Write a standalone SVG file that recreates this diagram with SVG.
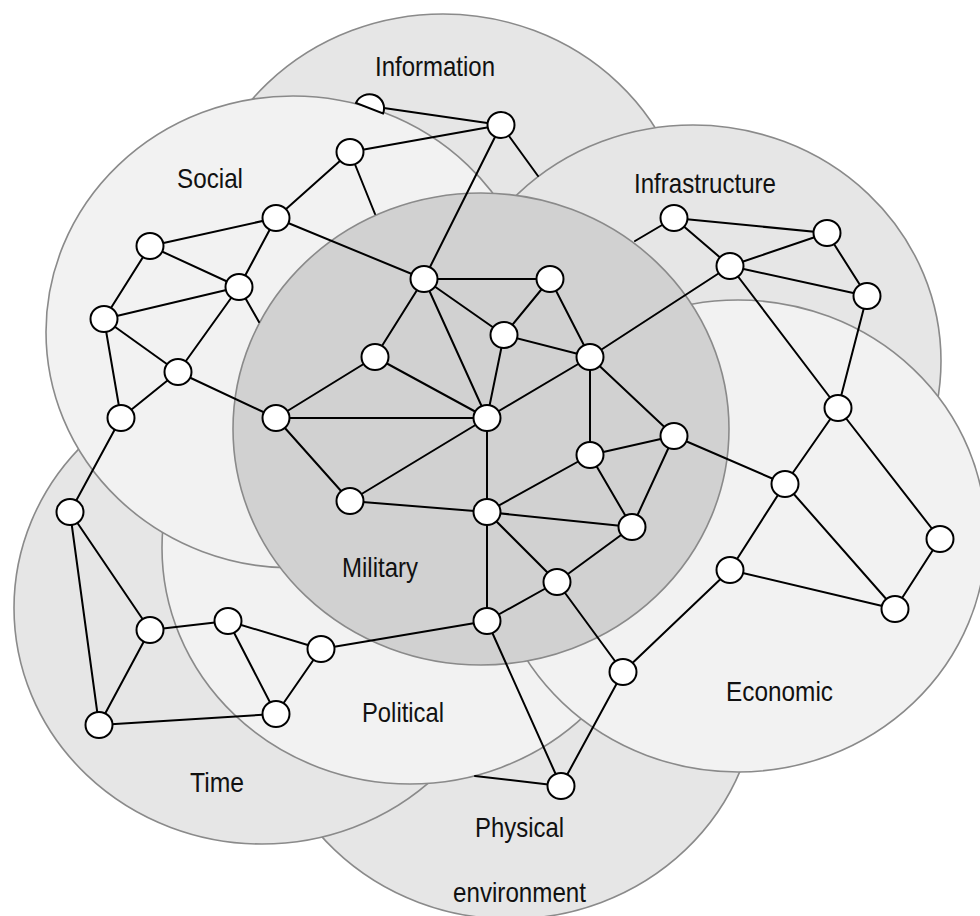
<svg xmlns="http://www.w3.org/2000/svg" width="980" height="916" viewBox="0 0 980 916">
<style>
.dom{stroke:#8a8a8a;stroke-width:1.6}
.d1{fill:#e6e6e6}
.d2{fill:#f2f2f2}
.d3{fill:#d1d1d1}
.lbl{font-family:"Liberation Sans",Arial,sans-serif;font-size:28px;fill:#111}
.edges line{stroke:#000;stroke-width:2;stroke-linecap:round}
.node ellipse,.node path{fill:#fff;stroke:#000;stroke-width:2}
</style>
<rect width="980" height="916" fill="#fff"/>
<g id="domains">
<g id="information"><ellipse class="dom d1" cx="443" cy="250" rx="248" ry="236"/></g>
<g id="physical"><ellipse class="dom d1" cx="510" cy="683" rx="248" ry="236"/></g>
<g id="time"><ellipse class="dom d1" cx="262" cy="608" rx="248" ry="236"/></g>
<g id="political"><ellipse class="dom d2" cx="410" cy="548" rx="248" ry="236"/></g>
<g id="social"><ellipse class="dom d2" cx="293" cy="332" rx="247" ry="236"/></g>
<g id="infrastructure"><ellipse class="dom d1" cx="693" cy="361" rx="248" ry="236"/></g>
<g id="economic"><ellipse class="dom d2" cx="738" cy="536" rx="248" ry="236"/></g>
<g id="military"><ellipse class="dom d3" cx="481" cy="429" rx="248" ry="236"/></g>
</g>
<g id="labels">
<text class="lbl" x="375" y="76" textLength="120" lengthAdjust="spacingAndGlyphs">Information</text>
<text class="lbl" x="177" y="188" textLength="66" lengthAdjust="spacingAndGlyphs">Social</text>
<text class="lbl" x="634" y="193" textLength="142" lengthAdjust="spacingAndGlyphs">Infrastructure</text>
<text class="lbl" x="342" y="577" textLength="76" lengthAdjust="spacingAndGlyphs">Military</text>
<text class="lbl" x="362" y="722" textLength="82" lengthAdjust="spacingAndGlyphs">Political</text>
<text class="lbl" x="190" y="792" textLength="54" lengthAdjust="spacingAndGlyphs">Time</text>
<text class="lbl" x="726" y="701" textLength="107" lengthAdjust="spacingAndGlyphs">Economic</text>
<text class="lbl" x="475" y="837" textLength="89" lengthAdjust="spacingAndGlyphs">Physical</text>
<text class="lbl" x="453" y="902" textLength="133" lengthAdjust="spacingAndGlyphs">environment</text>
</g>
<g id="connectors" class="edges">
<line x1="370" y1="106" x2="501" y2="125"/>
<line x1="501" y1="125" x2="350" y2="152"/>
<line x1="501" y1="125" x2="424" y2="279"/>
<line x1="501" y1="125" x2="538" y2="176"/>
<line x1="350" y1="152" x2="276" y2="218"/>
<line x1="350" y1="152" x2="375" y2="214"/>
<line x1="276" y1="218" x2="150" y2="246"/>
<line x1="276" y1="218" x2="239" y2="287"/>
<line x1="276" y1="218" x2="424" y2="279"/>
<line x1="150" y1="246" x2="239" y2="287"/>
<line x1="150" y1="246" x2="104" y2="319"/>
<line x1="239" y1="287" x2="104" y2="319"/>
<line x1="239" y1="287" x2="178" y2="372"/>
<line x1="239" y1="287" x2="259" y2="322"/>
<line x1="104" y1="319" x2="178" y2="372"/>
<line x1="104" y1="319" x2="121" y2="418"/>
<line x1="178" y1="372" x2="121" y2="418"/>
<line x1="178" y1="372" x2="276" y2="418"/>
<line x1="121" y1="418" x2="70" y2="512"/>
<line x1="424" y1="279" x2="550" y2="279"/>
<line x1="424" y1="279" x2="375" y2="357"/>
<line x1="424" y1="279" x2="504" y2="335"/>
<line x1="424" y1="279" x2="487" y2="418"/>
<line x1="550" y1="279" x2="504" y2="335"/>
<line x1="550" y1="279" x2="590" y2="357"/>
<line x1="504" y1="335" x2="590" y2="357"/>
<line x1="504" y1="335" x2="487" y2="418"/>
<line x1="375" y1="357" x2="276" y2="418"/>
<line x1="375" y1="357" x2="487" y2="418"/>
<line x1="276" y1="418" x2="487" y2="418"/>
<line x1="276" y1="418" x2="350" y2="501"/>
<line x1="350" y1="501" x2="487" y2="418"/>
<line x1="350" y1="501" x2="487" y2="512"/>
<line x1="590" y1="357" x2="730" y2="266"/>
<line x1="590" y1="357" x2="487" y2="418"/>
<line x1="590" y1="357" x2="590" y2="455"/>
<line x1="590" y1="357" x2="674" y2="436"/>
<line x1="487" y1="418" x2="487" y2="512"/>
<line x1="590" y1="455" x2="674" y2="436"/>
<line x1="590" y1="455" x2="487" y2="512"/>
<line x1="590" y1="455" x2="632" y2="527"/>
<line x1="674" y1="436" x2="632" y2="527"/>
<line x1="674" y1="436" x2="785" y2="484"/>
<line x1="487" y1="512" x2="632" y2="527"/>
<line x1="487" y1="512" x2="557" y2="582"/>
<line x1="487" y1="512" x2="487" y2="621"/>
<line x1="632" y1="527" x2="557" y2="582"/>
<line x1="557" y1="582" x2="487" y2="621"/>
<line x1="557" y1="582" x2="623" y2="672"/>
<line x1="487" y1="621" x2="321" y2="649"/>
<line x1="487" y1="621" x2="561" y2="786"/>
<line x1="561" y1="786" x2="475" y2="776"/>
<line x1="623" y1="672" x2="561" y2="786"/>
<line x1="623" y1="672" x2="730" y2="570"/>
<line x1="730" y1="570" x2="785" y2="484"/>
<line x1="730" y1="570" x2="895" y2="609"/>
<line x1="785" y1="484" x2="895" y2="609"/>
<line x1="785" y1="484" x2="838" y2="408"/>
<line x1="895" y1="609" x2="940" y2="539"/>
<line x1="940" y1="539" x2="838" y2="408"/>
<line x1="838" y1="408" x2="867" y2="296"/>
<line x1="838" y1="408" x2="730" y2="266"/>
<line x1="730" y1="266" x2="674" y2="218"/>
<line x1="730" y1="266" x2="827" y2="233"/>
<line x1="730" y1="266" x2="867" y2="296"/>
<line x1="674" y1="218" x2="827" y2="233"/>
<line x1="827" y1="233" x2="867" y2="296"/>
<line x1="674" y1="218" x2="635" y2="241"/>
<line x1="70" y1="512" x2="150" y2="630"/>
<line x1="70" y1="512" x2="99" y2="725"/>
<line x1="150" y1="630" x2="99" y2="725"/>
<line x1="150" y1="630" x2="228" y2="621"/>
<line x1="99" y1="725" x2="276" y2="714"/>
<line x1="228" y1="621" x2="321" y2="649"/>
<line x1="228" y1="621" x2="276" y2="714"/>
<line x1="321" y1="649" x2="276" y2="714"/>
</g>
<g id="nodes" class="node">
<g id="n-info-1"><path d="M356,103 A14,13.5 0 0 1 383,113.5 Z"/></g>
<g id="n-info-2"><ellipse cx="501" cy="125" rx="13.5" ry="13"/></g>
<g id="n-soc-1"><ellipse cx="350" cy="152" rx="13.5" ry="13"/></g>
<g id="n-soc-2"><ellipse cx="276" cy="218" rx="13.5" ry="13"/></g>
<g id="n-soc-3"><ellipse cx="150" cy="246" rx="13.5" ry="13"/></g>
<g id="n-soc-4"><ellipse cx="239" cy="287" rx="13.5" ry="13"/></g>
<g id="n-soc-5"><ellipse cx="104" cy="319" rx="13.5" ry="13"/></g>
<g id="n-soc-6"><ellipse cx="178" cy="372" rx="13.5" ry="13"/></g>
<g id="n-soc-7"><ellipse cx="121" cy="418" rx="13.5" ry="13"/></g>
<g id="n-mil-1"><ellipse cx="424" cy="279" rx="13.5" ry="13"/></g>
<g id="n-mil-2"><ellipse cx="550" cy="279" rx="13.5" ry="13"/></g>
<g id="n-mil-3"><ellipse cx="504" cy="335" rx="13.5" ry="13"/></g>
<g id="n-mil-4"><ellipse cx="375" cy="357" rx="13.5" ry="13"/></g>
<g id="n-mil-5"><ellipse cx="590" cy="357" rx="13.5" ry="13"/></g>
<g id="n-mil-6"><ellipse cx="276" cy="418" rx="13.5" ry="13"/></g>
<g id="n-mil-7"><ellipse cx="487" cy="418" rx="13.5" ry="13"/></g>
<g id="n-mil-8"><ellipse cx="674" cy="436" rx="13.5" ry="13"/></g>
<g id="n-mil-9"><ellipse cx="590" cy="455" rx="13.5" ry="13"/></g>
<g id="n-mil-10"><ellipse cx="350" cy="501" rx="13.5" ry="13"/></g>
<g id="n-mil-11"><ellipse cx="487" cy="512" rx="13.5" ry="13"/></g>
<g id="n-mil-12"><ellipse cx="632" cy="527" rx="13.5" ry="13"/></g>
<g id="n-mil-13"><ellipse cx="557" cy="582" rx="13.5" ry="13"/></g>
<g id="n-mil-14"><ellipse cx="487" cy="621" rx="13.5" ry="13"/></g>
<g id="n-inf-1"><ellipse cx="674" cy="218" rx="13.5" ry="13"/></g>
<g id="n-inf-2"><ellipse cx="827" cy="233" rx="13.5" ry="13"/></g>
<g id="n-inf-3"><ellipse cx="730" cy="266" rx="13.5" ry="13"/></g>
<g id="n-inf-4"><ellipse cx="867" cy="296" rx="13.5" ry="13"/></g>
<g id="n-inf-5"><ellipse cx="838" cy="408" rx="13.5" ry="13"/></g>
<g id="n-eco-1"><ellipse cx="785" cy="484" rx="13.5" ry="13"/></g>
<g id="n-eco-2"><ellipse cx="940" cy="539" rx="13.5" ry="13"/></g>
<g id="n-eco-3"><ellipse cx="730" cy="570" rx="13.5" ry="13"/></g>
<g id="n-eco-4"><ellipse cx="895" cy="609" rx="13.5" ry="13"/></g>
<g id="n-eco-5"><ellipse cx="623" cy="672" rx="13.5" ry="13"/></g>
<g id="n-time-1"><ellipse cx="70" cy="512" rx="13.5" ry="13"/></g>
<g id="n-time-2"><ellipse cx="150" cy="630" rx="13.5" ry="13"/></g>
<g id="n-time-3"><ellipse cx="99" cy="725" rx="13.5" ry="13"/></g>
<g id="n-pol-1"><ellipse cx="228" cy="621" rx="13.5" ry="13"/></g>
<g id="n-pol-2"><ellipse cx="321" cy="649" rx="13.5" ry="13"/></g>
<g id="n-pol-3"><ellipse cx="276" cy="714" rx="13.5" ry="13"/></g>
<g id="n-phys-1"><ellipse cx="561" cy="786" rx="13.5" ry="13"/></g>
</g>
</svg>
